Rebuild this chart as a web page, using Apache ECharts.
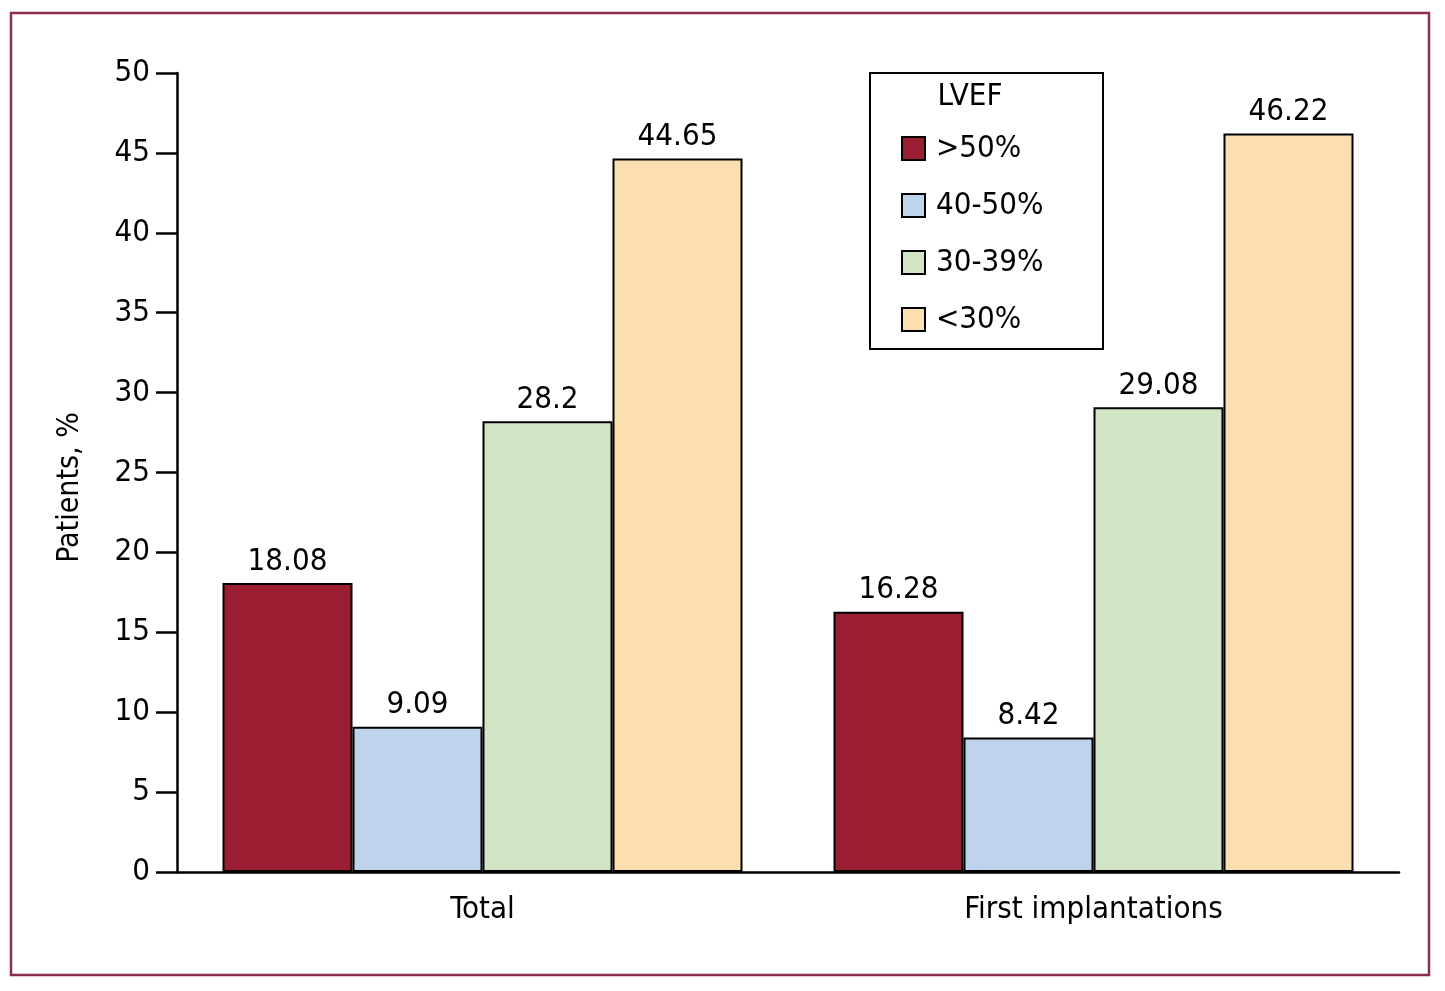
<!DOCTYPE html>
<html><head><meta charset="utf-8">
<script src="https://cdn.jsdelivr.net/npm/echarts@6/dist/echarts.min.js"></script>
<style>html,body{margin:0;padding:0;background:#fff}#c{width:1445px;height:991px}</style>
</head><body><div id="c"></div>
<script>
const categories = ['Total', 'First implantations'];
const seriesNames = ['>50%', '40-50%', '30-39%', '<30%'];
const gt50 = [18.08, 16.28];
const s40to50 = [9.09, 8.42];
const s30to39 = [28.2, 29.08];
const lt30 = [44.65, 46.22];
const yTicks = [0, 5, 10, 15, 20, 25, 30, 35, 40, 45, 50];
const legendTitle = 'LVEF';
const yName = 'Patients, %';

const FONT = "'Liberation Sans Narrow', 'DejaVu Sans Condensed', sans-serif";
const colors = ['#9a1d31', '#bdd4ec', '#d2e6c6', '#fbdfb1'];
const values = [gt50, s40to50, s30to39, lt30];

const chart = echarts.init(document.getElementById('c'));
chart.setOption({
  animation: false,
  backgroundColor: '#fff',
  textStyle: { fontFamily: FONT, color: '#000' },
  grid: { left: 177, top: 73, width: 1222, height: 799, containLabel: false },
  graphic: [
    { type: 'rect', shape: { x: 11, y: 13, width: 1418, height: 962 },
      style: { fill: 'none', stroke: '#8c2f48', lineWidth: 2.5 }, z: 100 },
    { type: 'rect', shape: { x: 870, y: 73, width: 233, height: 276 },
      style: { fill: '#fff', stroke: '#000', lineWidth: 2 }, z: 50 },
    { type: 'text', x: 970, y: 97, z: 60,
      style: { text: legendTitle, font: '31px ' + FONT, fill: '#000', textAlign: 'center', textVerticalAlign: 'middle' } }
  ],
  legend: {
    orient: 'vertical', left: 901, top: 133, padding: 0,
    itemWidth: 23, itemHeight: 23, itemGap: 26, icon: 'rect', z: 60,
    textStyle: { fontFamily: FONT, fontSize: 31, color: '#000', padding: [0, 0, 0, 6] },
    data: seriesNames
  },
  xAxis: {
    type: 'category', data: categories,
    axisLine: { lineStyle: { color: '#000', width: 2.5 } },
    axisTick: { show: false },
    axisLabel: { fontSize: 31, color: '#000', fontFamily: FONT, margin: 22 }
  },
  yAxis: {
    type: 'value', min: 0, max: 50, interval: 5,
    name: yName, nameLocation: 'middle', nameGap: 92, nameRotate: 90,
    nameTextStyle: { fontSize: 30, color: '#000', fontFamily: FONT, padding: [0, 30, 0, 0] },
    axisLine: { show: true, lineStyle: { color: '#000', width: 2.5 } },
    axisTick: { show: true, length: 21, lineStyle: { color: '#000', width: 2.5 } },
    axisLabel: { fontSize: 31, color: '#000', fontFamily: FONT, margin: 27,
      formatter: v => yTicks.includes(v) ? String(v) : '' },
    splitLine: { show: false }
  },
  series: seriesNames.map((n, i) => ({
    name: n, type: 'bar', data: values[i], barWidth: 130, barGap: '0%',
    itemStyle: { color: colors[i], borderColor: '#000', borderWidth: 2 },
    label: { show: true, position: 'top', distance: 6, fontSize: 31, color: '#000', fontFamily: FONT }
  }))
});
</script></body></html>
